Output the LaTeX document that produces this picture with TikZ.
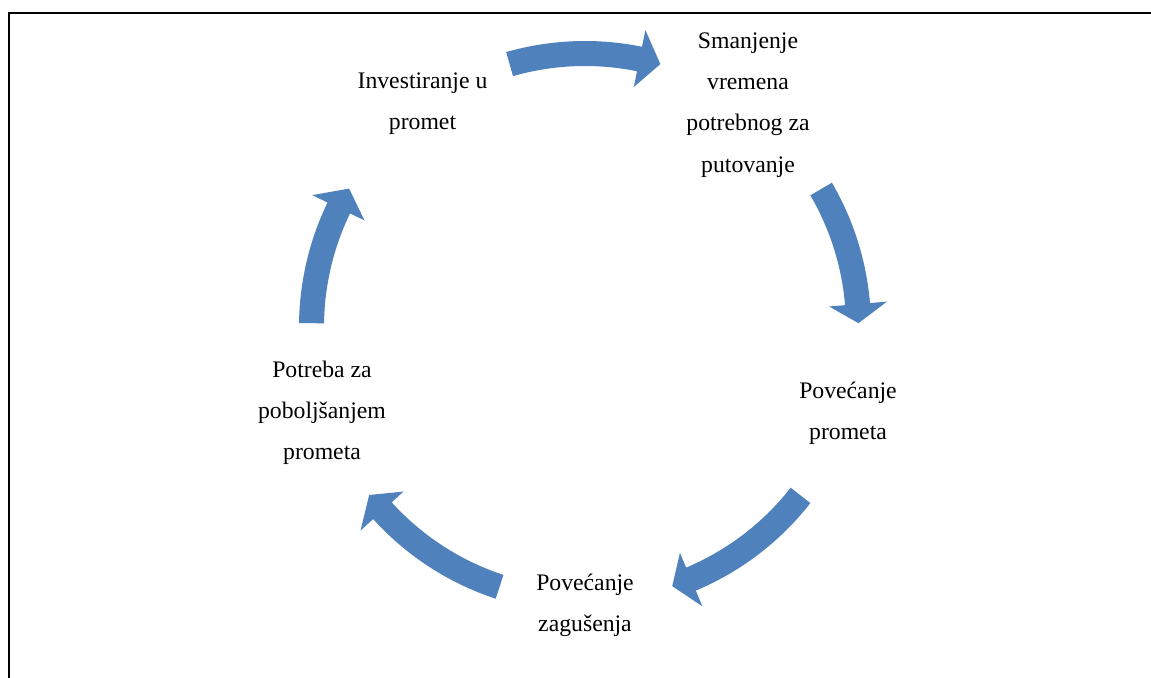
\documentclass[tikz,border=0pt]{standalone}
\usepackage{fontspec}
\setmainfont{Liberation Serif}
\usepackage{tikz}
\usetikzlibrary{positioning}
\definecolor{arrowblue}{RGB}{79,129,189}
\tikzset{
    cyclearrow/.style={
        fill=arrowblue, % SmartArt blue
        draw=none
    },
    stepnode/.style={
        align=center,
        inner sep=0,
        text=black,
        font=\fontsize{13.5}{23.5}\selectfont
    }
}

\begin{document}
\begin{tikzpicture}
            \useasboundingbox (0,0) rectangle (23.02,13.56);
            % frame
            \draw[line width=1.1pt] (0.18,0) -- (0.18,13.30) -- (23.02,13.30);
            \coordinate (c) at (11.70,7.02);
            % text of the cycle
            \node[stepnode] (invest) at (8.45,11.48) {Investiranje u\\promet};
            \node[stepnode] (vrijeme) at (14.96,11.46) {Smanjenje\\vremena\\potrebnog za\\putovanje};
            \node[stepnode] (promet) at (16.96,5.30) {Povećanje\\prometa};
            \node[stepnode] (zagusenje) at (11.70,1.46) {Povećanje\\zagušenja};
            \node[stepnode] (potreba) at (6.44,5.30) {Potreba za\\poboljšanjem\\prometa};
            % block arrows: start / head base / tip angle
            \begin{scope}[shift={(c)}]
                \foreach \s/\b/\t in {106/78.5/74, 30.3/4.8/0.8, -38/-67.2/-71.4, -108.2/-137.8/-142.1, 179.2/154.2/149.6}
                {
                    \fill[cyclearrow] (\s:5.72) arc[start angle=\s, end angle=\b, radius=5.72]
                        -- (\b:6.06) -- (\t:5.47) -- (\b:4.90) -- (\b:5.22)
                        arc[start angle=\b, end angle=\s, radius=5.22] -- cycle;
                }
            \end{scope}
\end{tikzpicture}
\end{document}
